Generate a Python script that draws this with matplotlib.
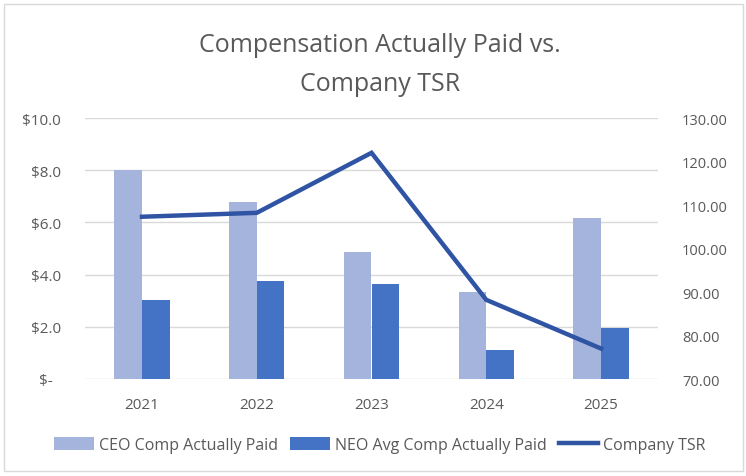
import matplotlib
matplotlib.use("Agg")
import matplotlib.pyplot as plt
import numpy as np
from matplotlib.patches import Rectangle, Patch
from matplotlib.lines import Line2D

years = ["2021", "2022", "2023", "2024", "2025"]
ceo_cap = [8.0, 6.8, 4.85, 3.32, 6.17]
neo_cap = [3.03, 3.75, 3.63, 1.10, 1.94]
tsr = [107.3, 108.2, 122.0, 88.2, 77.0]
left_ticks = [0, 2, 4, 6, 8, 10]
left_labels = ["$-  ", "$2.0", "$4.0", "$6.0", "$8.0", "$10.0"]
right_ticks = [70, 80, 90, 100, 110, 120, 130]
right_labels = ["70.00", "80.00", "90.00", "100.00", "110.00", "120.00", "130.00"]

plt.rcParams['font.family'] = ['Open Sans', 'DejaVu Sans']

W, H = 746, 477
fig = plt.figure(figsize=(W / 100, H / 100), dpi=100)
fig.patch.set_facecolor("white")

# chart border
fig.patches.append(Rectangle((4 / W, 5 / H), (743 - 4) / W, (472 - 5) / H,
                             transform=fig.transFigure, fill=False,
                             edgecolor="#D9D9D9", linewidth=1.0))

left, right, top, bottom = 84.6, 658.4, 119, 380
ax = fig.add_axes([left / W, 1 - bottom / H, (right - left) / W, (bottom - top) / H])

x = np.arange(len(years))
bw = 0.24
c_ceo = "#A5B4DC"
c_neo = "#4472C4"
c_tsr = "#2F54A3"
txt = "#595959"

ax.bar(x - bw / 2, ceo_cap, width=bw, color=c_ceo, zorder=2)
ax.bar(x + bw / 2, neo_cap, width=bw, color=c_neo, zorder=2)
ax.set_xlim(-0.5, len(years) - 0.5)
ax.set_ylim(0, 10)
ax.set_yticks(left_ticks)
ax.set_yticklabels(left_labels)
ax.set_xticks(x)
ax.set_xticklabels(years)
ax.grid(axis="y", color="#D9D9D9", linewidth=1.0, zorder=0)
ax.set_axisbelow(True)
for s in ax.spines.values():
    s.set_visible(False)
ax.tick_params(axis="both", length=0, labelsize=11, labelcolor=txt)
ax.tick_params(axis="y", pad=17)
ax.tick_params(axis="x", pad=13)

ax2 = ax.twinx()
ax2.plot(x, tsr, color=c_tsr, linewidth=3.2, solid_joinstyle="miter", zorder=3)
ax2.set_ylim(70, 130)
ax2.set_yticks(right_ticks)
ax2.set_yticklabels(right_labels)
for s in ax2.spines.values():
    s.set_visible(False)
ax2.tick_params(axis="y", length=0, labelsize=10.5, labelcolor=txt, pad=17)

fig.text(380 / W, 1 - 52 / H, "Compensation Actually Paid vs.", ha="center", va="baseline",
         fontsize=18, color=txt)
fig.text(380 / W, 1 - 91 / H, "Company TSR", ha="center", va="baseline",
         fontsize=18, color=txt)

handles = [Patch(facecolor=c_ceo, edgecolor="none"),
           Patch(facecolor=c_neo, edgecolor="none"),
           Line2D([0], [0], color=c_tsr, linewidth=3.2)]
labels = ["CEO Comp Actually Paid", "NEO Avg Comp Actually Paid", "Company TSR"]
fig.legend(handles, labels, loc="center", bbox_to_anchor=(380 / W, 1 - 446 / H),
           ncol=3, frameon=False, fontsize=11.5, labelcolor=txt,
           handlelength=2.5, handleheight=0.8, handletextpad=0.3, columnspacing=0.75,
           borderaxespad=0, borderpad=0)

fig.savefig("out.png", dpi=100, facecolor="white")
